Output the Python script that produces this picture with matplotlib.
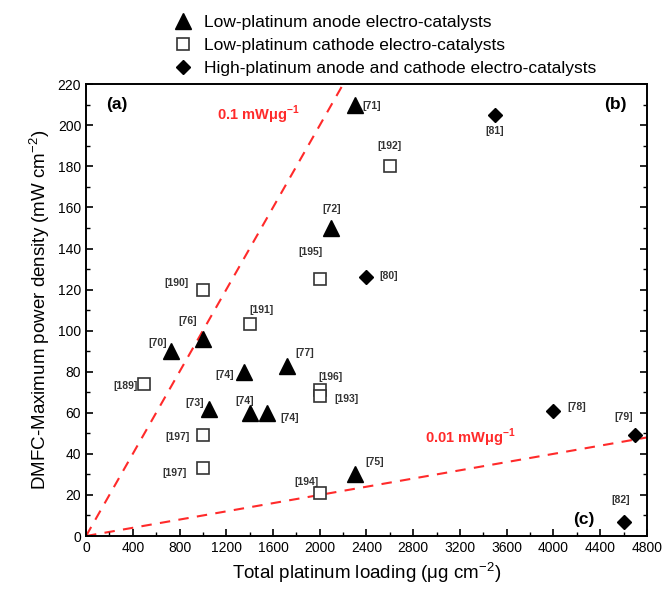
import matplotlib
matplotlib.use('Agg')
import matplotlib.pyplot as plt
from matplotlib.ticker import MultipleLocator
import numpy as np

plt.rcParams['font.family'] = ['Liberation Sans', 'DejaVu Sans']

# low-platinum anode electro-catalysts
anode_x = [2300, 2100, 1000, 730, 1350, 1720, 1050, 1400, 1550, 2300]
anode_y = [210, 150, 96, 90, 80, 83, 62, 60, 60, 30]
anode_ref = ['[71]', '[72]', '[76]', '[70]', '[74]', '[77]', '[73]', '[74]', '[74]', '[75]']
anode_off = [(17, -1), (0, 19), (-15, 18), (-14, 8), (-19, -3), (18, 13),
             (-14, 6), (-5, 12), (23, -5), (20, 12)]

# low-platinum cathode electro-catalysts
cathode_x = [1000, 2000, 2600, 1400, 500, 2000, 2000, 1000, 1000, 2000]
cathode_y = [120, 125, 180, 103, 74, 71, 68, 49, 33, 21]
cathode_ref = ['[190]', '[195]', '[192]', '[191]', '[189]', '[196]', '[193]',
               '[197]', '[197]', '[194]']
cathode_off = [(-26, 7), (-9, 27), (0, 20), (12, 14), (-19, -2), (11, 13),
               (27, -3), (-25, -2), (-28, -5), (-13, 11)]

# high-platinum anode and cathode
high_x = [3500, 2400, 4000, 4700, 4600]
high_y = [205, 126, 61, 49, 7]
high_ref = ['[81]', '[80]', '[78]', '[79]', '[82]']
high_off = [(0, -16), (22, 1), (23, 4), (-12, 18), (-3, 22)]

line_x = [0, 4800]
slopes = [0.1, 0.01]

fig = plt.figure(figsize=(6.69, 6.06), dpi=100)
ax = fig.add_axes([0.1286, 0.1155, 0.8384, 0.7455])

red = '#ff2a2a'
for s in slopes:
    ax.plot(line_x, [s * v for v in line_x], color=red, ls=(0, (5, 4)), lw=1.5, zorder=1)

h1, = ax.plot(anode_x, anode_y, ls='none', marker='^', ms=12, color='black',
              label='Low-platinum anode electro-catalysts', zorder=3)
h2, = ax.plot(cathode_x, cathode_y, ls='none', marker='s', ms=8.5, mfc='white',
              mec='#333333', mew=1.2, label='Low-platinum cathode electro-catalysts', zorder=3)
h3, = ax.plot(high_x, high_y, ls='none', marker='D', ms=7.5, color='black',
              label='High-platinum anode and cathode electro-catalysts', zorder=3)

for xs, ys, refs, offs in [(anode_x, anode_y, anode_ref, anode_off),
                           (cathode_x, cathode_y, cathode_ref, cathode_off),
                           (high_x, high_y, high_ref, high_off)]:
    for x, y, r, o in zip(xs, ys, refs, offs):
        ax.annotate(r, (x, y), xytext=o, textcoords='offset pixels',
                    ha='center', va='center', fontsize=7.5, fontweight='bold',
                    color='#333333')

ax.text(1471, 205, r'0.1 mW$\mathregular{\mu}$g$^{\mathregular{-1}}$', color=red,
        fontsize=10.5, fontweight='bold', ha='center', va='center')
ax.text(3285, 48, r'0.01 mW$\mathregular{\mu}$g$^{\mathregular{-1}}$', color=red,
        fontsize=10.5, fontweight='bold', ha='center', va='center')
ax.text(265, 210, '(a)', fontsize=12.5, fontweight='bold', ha='center', va='center')
ax.text(4534, 210, '(b)', fontsize=12.5, fontweight='bold', ha='center', va='center')
ax.text(4260, 8, '(c)', fontsize=12.5, fontweight='bold', ha='center', va='center')

ax.set_xlim(0, 4800)
ax.set_ylim(0, 220)
ax.xaxis.set_major_locator(MultipleLocator(400))
ax.xaxis.set_minor_locator(MultipleLocator(200))
ax.yaxis.set_major_locator(MultipleLocator(20))
ax.yaxis.set_minor_locator(MultipleLocator(10))
ax.tick_params(which='both', direction='in', right=True, top=False, labelsize=10)
ax.tick_params(which='major', length=5, width=1.2)
ax.tick_params(which='minor', length=3, width=1.0)
for sp in ax.spines.values():
    sp.set_linewidth(1.4)

ax.set_xlabel(r'Total platinum loading ($\mathregular{\mu}$g cm$^{\mathregular{-2}}$)', fontsize=13.5)
ax.set_ylabel(r'DMFC-Maximum power density (mW cm$^{\mathregular{-2}}$)', fontsize=13.5)

fig.legend(handles=[h1, h2, h3], loc='upper left', bbox_to_anchor=(0.243, 0.995),
           frameon=False, fontsize=12.5, handlelength=1.0, handletextpad=0.7,
           labelspacing=0.45, borderaxespad=0.3)

fig.savefig('out.png', dpi=100)
